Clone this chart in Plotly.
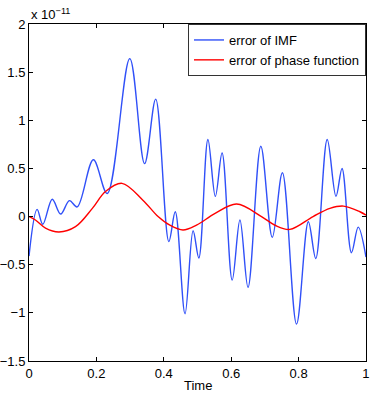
"""Error of IMF vs error of phase function."""

import plotly.graph_objects as go

# values, in units of 1e-11
imf_t = [0.0, 0.024, 0.041, 0.069, 0.094, 0.120, 0.143, 0.191, 0.232, 0.299,
         0.343, 0.376, 0.415, 0.434, 0.463, 0.487, 0.504, 0.531, 0.553, 0.573,
         0.603, 0.626, 0.650, 0.688, 0.722, 0.752, 0.794, 0.829, 0.851, 0.885,
         0.911, 0.929, 0.957, 0.977, 1.0]
imf_err = [-0.41, 0.075, -0.08, 0.18, 0.026, 0.165, 0.10, 0.59, 0.24, 1.64,
           0.55, 1.22, -0.26, 0.05, -1.01, -0.147, -0.43, 0.80, 0.21, 0.66,
           -0.66, -0.036, -0.735, 0.73, -0.216, 0.455, -1.116, -0.054, -0.435, 0.80,
           0.21, 0.50, -0.375, -0.11, -0.42]

phase_t = [0.0, 0.019, 0.049, 0.089, 0.138, 0.188, 0.227, 0.276, 0.338, 0.383,
           0.418, 0.457, 0.497, 0.551, 0.616, 0.69, 0.73, 0.774, 0.843, 0.893,
           0.933, 0.982, 1.0]
phase_err = [0.0, -0.036, -0.12, -0.16, -0.105, 0.085, 0.26, 0.345, 0.17, 0.0,
             -0.09, -0.14, -0.09, 0.03, 0.13, 0.0, -0.09, -0.133, 0.0, 0.085,
             0.109, 0.05, 0.015]

x_ticks = [0, 0.2, 0.4, 0.6, 0.8, 1]
x_labels = ["0", "0.2", "0.4", "0.6", "0.8", "1"]
y_ticks = [-1.5, -1, -0.5, 0, 0.5, 1, 1.5, 2]
y_labels = ["\u22121.5", "\u22121", "\u22120.5", "0", "0.5", "1", "1.5", "2"]

font = dict(family="Liberation Sans, Arial, sans-serif", size=13, color="black")

fig = go.Figure()
fig.add_trace(go.Scatter(x=imf_t, y=imf_err, mode="lines", name="error of IMF",
                         line=dict(color="#3050f8", width=1.4, shape="spline")))
fig.add_trace(go.Scatter(x=phase_t, y=phase_err, mode="lines", name="error of phase function",
                         line=dict(color="#ff0000", width=1.4, shape="spline")))

axis = dict(showgrid=False, zeroline=False, showline=True, linecolor="black",
            linewidth=1, mirror="ticks", ticks="inside", ticklen=4,
            tickcolor="black", tickfont=font, automargin=False)

fig.update_layout(
    width=374, height=396,
    margin=dict(l=29, r=8, t=24, b=35),
    paper_bgcolor="white", plot_bgcolor="white",
    font=font,
    showlegend=True,
    xaxis=dict(axis, range=[0, 1.0001], tickvals=x_ticks, ticktext=x_labels),
    yaxis=dict(axis, range=[-1.5, 2], tickvals=y_ticks, ticktext=y_labels),
    legend=dict(x=1.0, y=1.0, xanchor="right", yanchor="top",
                bgcolor="white", bordercolor="#333333", borderwidth=1,
                font=font, tracegroupgap=0, itemwidth=30),
    annotations=[
        dict(text="x 10<sup>\u221211</sup>", xref="paper", yref="paper",
             x=0, y=1, xanchor="left", yanchor="bottom", showarrow=False,
             font=font),
        dict(text="Time", xref="paper", yref="paper", x=0.5, y=-0.074,
             xanchor="center", yanchor="middle", showarrow=False, font=font),
    ],
)

fig.write_html("out.html", config={"displayModeBar": False},
               post_script="document.body.style.margin='0';")
